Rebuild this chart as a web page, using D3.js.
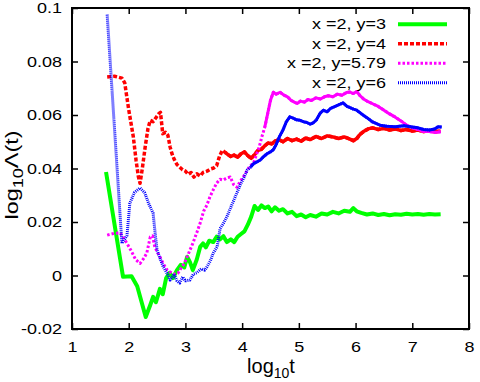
<!DOCTYPE html>
<html>
<head>
<meta charset="utf-8">
<script src="https://cdn.jsdelivr.net/npm/d3@7"></script>
<style>
body { margin: 0; background: #fff; }
text { font-family: "Liberation Sans", Arial, sans-serif; fill: #000; }
</style>
</head>
<body>
<div id="canvas"></div>
<script>
// axis ticks
let xTicks = [1, 2, 3, 4, 5, 6, 7, 8];
let yTicks = [-0.02, 0, 0.02, 0.04, 0.06, 0.08, 0.1];
let yTickLabels = ["-0.02", "0", "0.02", "0.04", "0.06", "0.08", "0.1"];

// series names (legend)
let seriesNames = ["x =2, y=3", "x =2, y=4", "x =2, y=5.79", "x =2, y=6"];

// [log10 t, log10 Lambda(t)]
let green = [[1.6,0.0387],[1.9,-0.0005],[2.05,-0.0003],[2.15,-0.004],[2.3,-0.0155],[2.38,-0.011],[2.43,-0.008],
    [2.48,-0.01],[2.55,-0.005],[2.6,-0.007],[2.66,-0.001],[2.72,0.001],[2.78,-0.001],[2.85,0.002],[2.92,0.004],
    [2.98,0.003],[3.03,0.007],[3.08,0.005],[3.13,0.002],[3.2,0.006],[3.26,0.0107],[3.31,0.012],[3.36,0.0105],
    [3.42,0.013],[3.49,0.0125],[3.55,0.0145],[3.61,0.0135],[3.67,0.0147],[3.73,0.0125],[3.8,0.0135],[3.86,0.0125],
    [3.92,0.0145],[3.98,0.0155],[4.04,0.0165],[4.1,0.019],[4.16,0.022],[4.22,0.026],[4.28,0.0245],[4.34,0.0262],
    [4.4,0.0252],[4.46,0.0258],[4.52,0.024],[4.58,0.0255],[4.65,0.0242],[4.72,0.0248],[4.8,0.0232],[4.88,0.0238],
    [4.96,0.0222],[5.04,0.0228],[5.12,0.0218],[5.2,0.0226],[5.3,0.022],[5.4,0.0232],[5.5,0.0228],[5.6,0.0238],
    [5.7,0.0232],[5.8,0.0242],[5.9,0.0238],[5.96,0.0252],[6.02,0.024],[6.1,0.0234],[6.2,0.0228],[6.3,0.0232],
    [6.4,0.0226],[6.5,0.023],[6.6,0.0225],[6.7,0.0229],[6.8,0.0227],[6.9,0.0231],[7.0,0.0228],[7.1,0.023],
    [7.2,0.0227],[7.3,0.023],[7.4,0.0228],[7.5,0.0229]];

let red = [[1.62,0.0742],[1.75,0.0745],[1.88,0.0738],[1.93,0.072],[2.0,0.062],[2.08,0.052],[2.13,0.043],[2.17,0.037],
    [2.2,0.0345],[2.24,0.04],[2.29,0.048],[2.34,0.055],[2.38,0.058],[2.43,0.0575],[2.48,0.059],[2.53,0.0605],
    [2.56,0.061],[2.6,0.053],[2.65,0.0535],[2.69,0.0525],[2.73,0.048],[2.76,0.0457],[2.8,0.0435],[2.85,0.0415],
    [2.9,0.0405],[2.95,0.0395],[3.0,0.039],[3.05,0.0378],[3.1,0.0385],[3.15,0.0368],[3.2,0.038],[3.26,0.0372],
    [3.31,0.0385],[3.38,0.039],[3.44,0.0398],[3.5,0.0402],[3.55,0.041],[3.6,0.0445],[3.65,0.0468],[3.7,0.046],
    [3.75,0.0452],[3.8,0.0445],[3.86,0.045],[3.92,0.0442],[3.98,0.0455],[4.04,0.0462],[4.1,0.0448],[4.16,0.0438],
    [4.22,0.0452],[4.28,0.0468],[4.34,0.0472],[4.4,0.0485],[4.46,0.0496],[4.52,0.0492],[4.58,0.0502],[4.65,0.0508],
    [4.72,0.05],[4.8,0.0512],[4.88,0.0504],[4.96,0.051],[5.04,0.0502],[5.12,0.0514],[5.2,0.0508],[5.3,0.052],
    [5.4,0.0512],[5.5,0.0522],[5.6,0.0518],[5.7,0.0512],[5.8,0.0518],[5.9,0.051],[5.96,0.0504],[6.02,0.0512],
    [6.08,0.0528],[6.14,0.0538],[6.22,0.0548],[6.3,0.0552],[6.4,0.0546],[6.5,0.055],[6.6,0.0544],[6.7,0.0548],
    [6.8,0.0542],[6.9,0.0546],[7.0,0.054],[7.1,0.0544],[7.2,0.0538],[7.3,0.0541],[7.4,0.0537],[7.5,0.054]];

let magenta = [[1.62,0.0151],[1.75,0.0158],[1.85,0.0159],[1.97,0.012],[2.05,0.009],[2.12,0.006],[2.2,0.0045],
    [2.27,0.0065],[2.32,0.0085],[2.38,0.0144],[2.42,0.0148],[2.46,0.0107],[2.51,0.0085],[2.55,0.007],[2.62,0.004],
    [2.68,0.002],[2.73,0.0013],[2.8,0.0005],[2.87,0.0009],[2.93,0.003],[2.98,0.0045],[3.03,0.007],[3.08,0.0095],
    [3.13,0.012],[3.2,0.016],[3.26,0.0196],[3.32,0.024],[3.38,0.0264],[3.43,0.0293],[3.49,0.032],[3.55,0.0345],
    [3.61,0.036],[3.67,0.0357],[3.73,0.0365],[3.79,0.0368],[3.85,0.034],[3.91,0.033],[3.96,0.035],[4.02,0.0368],
    [4.08,0.039],[4.14,0.041],[4.2,0.042],[4.25,0.045],[4.3,0.048],[4.35,0.052],[4.4,0.0555],[4.45,0.0605],
    [4.5,0.0655],[4.55,0.0685],[4.6,0.0678],[4.67,0.0685],[4.73,0.0675],[4.8,0.0668],[4.86,0.0655],[4.92,0.0648],
    [4.97,0.0643],[5.03,0.0652],[5.1,0.0648],[5.16,0.0658],[5.22,0.0654],[5.3,0.0664],[5.38,0.066],[5.45,0.0668],
    [5.52,0.0672],[5.6,0.0668],[5.68,0.0678],[5.76,0.0674],[5.84,0.0684],[5.9,0.0686],[5.96,0.068],[6.02,0.0688],
    [6.08,0.0672],[6.14,0.066],[6.2,0.0652],[6.3,0.0642],[6.4,0.0632],[6.5,0.0618],[6.6,0.0604],[6.7,0.0592],
    [6.8,0.0578],[6.9,0.0562],[7.0,0.0552],[7.1,0.0546],[7.2,0.0538],[7.3,0.0538],[7.4,0.0535],[7.5,0.0537]];

let blue = [[1.62,0.0975],[1.88,0.012],[1.97,0.015],[2.02,0.027],[2.1,0.031],[2.2,0.0327],[2.28,0.031],[2.35,0.027],
    [2.43,0.0233],[2.47,0.015],[2.5,0.0095],[2.55,0.0065],[2.61,0.0032],[2.67,0.001],[2.73,-0.0017],[2.8,0.0005],
    [2.85,-0.002],[2.9,-0.0028],[2.95,-0.0005],[3.0,-0.002],[3.08,-0.0017],[3.14,0.0005],[3.2,0.001],[3.28,0.0025],
    [3.34,0.002],[3.38,0.0032],[3.44,0.0055],[3.49,0.0084],[3.56,0.0107],[3.61,0.0175],[3.67,0.0195],[3.73,0.0219],
    [3.79,0.025],[3.85,0.028],[3.91,0.031],[3.97,0.034],[4.03,0.0365],[4.09,0.0394],[4.15,0.0405],[4.2,0.0418],
    [4.26,0.0425],[4.32,0.0432],[4.38,0.0445],[4.44,0.0455],[4.5,0.0462],[4.55,0.047],[4.6,0.049],[4.66,0.052],
    [4.72,0.0544],[4.78,0.0575],[4.84,0.0593],[4.9,0.0588],[4.96,0.0582],[5.02,0.058],[5.08,0.0575],[5.14,0.0572],
    [5.2,0.0566],[5.25,0.057],[5.31,0.0582],[5.37,0.0605],[5.43,0.0618],[5.5,0.0612],[5.56,0.0625],[5.62,0.063],
    [5.7,0.0638],[5.78,0.0645],[5.85,0.0632],[5.9,0.0628],[5.96,0.0622],[6.02,0.0618],[6.1,0.0605],[6.2,0.059],
    [6.3,0.0574],[6.43,0.0562],[6.55,0.0558],[6.7,0.0556],[6.85,0.056],[7.0,0.0555],[7.1,0.0552],[7.2,0.0546],
    [7.3,0.0544],[7.4,0.0548],[7.45,0.0556],[7.52,0.0555]];

let allSeries = [green, red, magenta, blue];

// line styles, gnuplot-like
let styles = [
    { color: "#00ff00", width: 4, dash: null, denseFrom: 3.3 },
    { color: "#ff0000", width: 3.5, dash: "4,2", denseFrom: 3.7 },
    { color: "#ff00ff", width: 3, dash: "2.5,2", denseFrom: 4.4 },
    { color: "#0000ff", width: 3, dash: "1,1", denseFrom: 4.1 }
];

let width = 480, height = 382;
let margin = { top: 8, right: 11, bottom: 53, left: 72 };

let svg = d3.select("#canvas").append("svg")
    .attr("width", width)
    .attr("height", height);

let x = d3.scaleLinear().domain([1, 8]).range([margin.left, width - margin.right]);
let y = d3.scaleLinear().domain([-0.02, 0.1]).range([height - margin.bottom, margin.top]);

// squash text vertically a bit, like the original picture
let squash = 0.8;
function squashText(sel) {
    sel.each(function () {
        let t = d3.select(this);
        let tx = +t.attr("x") || 0, ty = +t.attr("y") || 0;
        t.attr("transform", `translate(${tx},${ty}) scale(1,${squash}) translate(${-tx},${-ty})`);
    });
}

svg.append("clipPath").attr("id", "clip")
    .append("rect")
    .attr("x", margin.left).attr("y", margin.top)
    .attr("width", width - margin.left - margin.right)
    .attr("height", height - margin.top - margin.bottom);

let line = d3.line().x(d => x(d[0])).y(d => y(d[1]));

let plot = svg.append("g").attr("clip-path", "url(#clip)");
allSeries.forEach((s, i) => {
    let st = styles[i];
    plot.append("path")
        .attr("d", line(s))
        .attr("fill", "none")
        .attr("stroke", st.color)
        .attr("stroke-width", st.width)
        .attr("stroke-dasharray", st.dash)
        .attr("stroke-linejoin", "round");
    // dense part of the data looks solid
    if (st.dash) {
        plot.append("path")
            .attr("d", line(s.filter(d => d[0] >= st.denseFrom)))
            .attr("fill", "none")
            .attr("stroke", st.color)
            .attr("stroke-width", st.width)
            .attr("stroke-linejoin", "round");
    }
});

// axes, ticks inward on all sides
let fs = "18px";
let xAxis = svg.append("g")
    .attr("transform", `translate(0,${height - margin.bottom})`)
    .call(d3.axisBottom(x).tickValues(xTicks).tickFormat(d3.format("d")).tickSize(-6).tickPadding(13).tickSizeOuter(0));
svg.append("g")
    .attr("transform", `translate(0,${margin.top})`)
    .call(d3.axisTop(x).tickValues(xTicks).tickFormat("").tickSize(-6).tickSizeOuter(0));
let yAxis = svg.append("g")
    .attr("transform", `translate(${margin.left},0)`)
    .call(d3.axisLeft(y).tickValues(yTicks).tickFormat((d, i) => yTickLabels[i]).tickSize(-6).tickPadding(10).tickSizeOuter(0));
svg.append("g")
    .attr("transform", `translate(${width - margin.right},0)`)
    .call(d3.axisRight(y).tickValues(yTicks).tickFormat("").tickSize(-6).tickSizeOuter(0));

svg.selectAll(".tick line").attr("stroke", "#000").attr("stroke-width", 1.5);
svg.selectAll(".domain").remove();
svg.selectAll(".tick text").attr("font-size", fs).attr("font-family", null).attr("fill", "#000");
xAxis.selectAll(".tick text").attr("dy", "0.71em");
squashText(svg.selectAll(".tick text"));

svg.append("rect")
    .attr("x", margin.left).attr("y", margin.top)
    .attr("width", width - margin.left - margin.right)
    .attr("height", height - margin.top - margin.bottom)
    .attr("fill", "none")
    .attr("stroke", "#000")
    .attr("stroke-width", 2);

// axis titles
let xl = svg.append("text")
    .attr("x", 271).attr("y", 373)
    .attr("text-anchor", "middle")
    .attr("font-size", "20px");
xl.append("tspan").text("log");
xl.append("tspan").attr("font-size", "14px").attr("dy", 5).text("10");
xl.append("tspan").attr("dy", -5).text("t");

let yl = svg.append("g")
    .attr("transform", "translate(18,175) rotate(-90) scale(1.3,1)")
    .append("text")
    .attr("text-anchor", "middle")
    .attr("font-size", "18px");
yl.append("tspan").text("log");
yl.append("tspan").attr("font-size", "14px").attr("dy", 5).text("10");
yl.append("tspan").attr("dy", -5).text("Λ(t)");

// legend
let legend = svg.append("g");
seriesNames.forEach((name, i) => {
    let ly = 24.3 + i * 19.5;
    let st = styles[i];
    let t = legend.append("text")
        .attr("x", 386).attr("y", ly)
        .attr("dy", "0.35em")
        .attr("text-anchor", "end")
        .attr("font-size", fs)
        .text(name);
    squashText(t);
    legend.append("line")
        .attr("x1", 398).attr("x2", 447)
        .attr("y1", ly).attr("y2", ly)
        .attr("stroke", st.color)
        .attr("stroke-width", st.width)
        .attr("stroke-dasharray", st.dash);
});
</script>
</body>
</html>
